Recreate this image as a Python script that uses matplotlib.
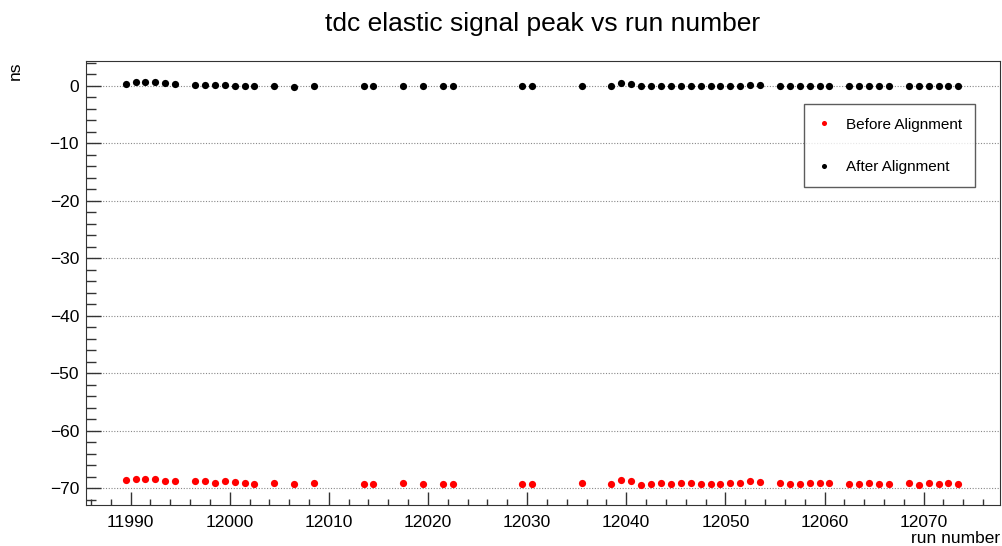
import numpy as np
import matplotlib
matplotlib.use("Agg")
import matplotlib.pyplot as plt
from matplotlib.ticker import MultipleLocator

# run numbers (points are drawn at the bin centre, run + 0.5)
runs = [11989, 11990, 11991, 11992, 11993, 11994, 11996, 11997, 11998, 11999,
        12000, 12001, 12002, 12004, 12006, 12008, 12013, 12014,
        12017, 12019, 12021, 12022, 12029, 12030, 12035, 12038, 12039, 12040,
        12041, 12042, 12043, 12044,
        12045, 12046, 12047, 12048, 12049, 12050, 12051, 12052, 12053, 12055,
        12056, 12057, 12058, 12059, 12060, 12062, 12063, 12064, 12065, 12066,
        12068, 12069, 12070, 12071, 12072, 12073]

# tdc peak before alignment (ns)
before = [-68.61, -68.44, -68.32, -68.44, -68.78, -68.73, -68.78, -68.78, -69.07, -68.78,
          -68.90, -69.02, -69.19, -69.07, -69.31, -69.07, -69.31, -69.19,
          -69.07, -69.19, -69.19, -69.19, -69.19, -69.31, -69.07, -69.19, -68.61, -68.73,
          -69.48, -69.19, -69.02, -69.19,
          -69.07, -69.07, -69.19, -69.19, -69.19, -69.07, -69.07, -68.73, -68.96, -69.07,
          -69.19, -69.19, -69.07, -69.07, -69.07, -69.19, -69.19, -69.07, -69.19, -69.19,
          -69.07, -69.36, -69.07, -69.19, -69.07, -69.19]

# tdc peak after alignment (ns)
after = [0.40, 0.62, 0.69, 0.69, 0.45, 0.40, 0.17, 0.17, 0.17, 0.17,
         0.06, -0.06, -0.06, -0.06, -0.17, -0.06, -0.06, 0.06,
         0.06, -0.06, -0.06, -0.06, -0.06, -0.06, 0.06, -0.06, 0.58, 0.29,
         0.06, -0.06, 0.06, -0.06,
         0.06, -0.06, -0.06, -0.06, -0.06, 0.06, 0.06, 0.23, 0.17, 0.06,
         -0.06, -0.06, 0.06, 0.06, 0.06, -0.06, -0.06, 0.06, -0.06, 0.06,
         0.06, -0.06, 0.06, -0.06, 0.06, 0.06]

plt.rcParams['font.family'] = ['Liberation Sans', 'DejaVu Sans']

x = np.array(runs) + 0.5

fig = plt.figure(figsize=(10.03, 5.46), dpi=100)
ax = fig.add_axes([0.0857, 0.075, 0.9113, 0.813])

ax.plot(x, before, 'o', color='#ff0000', ms=5.2, mec='none', label='Before Alignment')
ax.plot(x, after, 'o', color='black', ms=5.2, mec='none', label='After Alignment')

ax.set_xlim(11985.5, 12077.7)
ax.set_ylim(-72.9, 4.3)

ax.xaxis.set_major_locator(MultipleLocator(10))
ax.xaxis.set_minor_locator(MultipleLocator(2))
ax.yaxis.set_major_locator(MultipleLocator(10))
ax.yaxis.set_minor_locator(MultipleLocator(2))
ax.tick_params(which='both', direction='in', top=False, right=False,
               color='#333333', labelsize=12.5, width=1)
ax.tick_params(axis='x', which='major', length=9.5, pad=7)
ax.tick_params(axis='x', which='minor', length=4.5)
ax.tick_params(axis='y', which='major', length=11, pad=5)
ax.tick_params(axis='y', which='minor', length=7)

ax.grid(axis='y', which='major', linestyle=(0, (1, 1.5)), color='#888888', linewidth=0.8)
for s in ax.spines.values():
    s.set_color('#333333')

ax.set_title('tdc elastic signal peak vs run number', fontsize=19, pad=22)
fig.text(0.997, 3 / 546, 'run number', fontsize=12.5, ha='right', va='baseline')
fig.text(15 / 1003, 1 - 61 / 546, 'ns', fontsize=12.5, rotation=90, ha='center', va='top')

leg = ax.legend(loc='upper right', bbox_to_anchor=(0.973, 0.903), fontsize=11,
                frameon=True, fancybox=False, edgecolor='#333333', borderpad=0.87,
                labelspacing=1.86, handlelength=0.9, handletextpad=1.0, markerscale=0.7,
                borderaxespad=0)
leg.get_frame().set_linewidth(1)

fig.savefig('out.png', dpi=100)
